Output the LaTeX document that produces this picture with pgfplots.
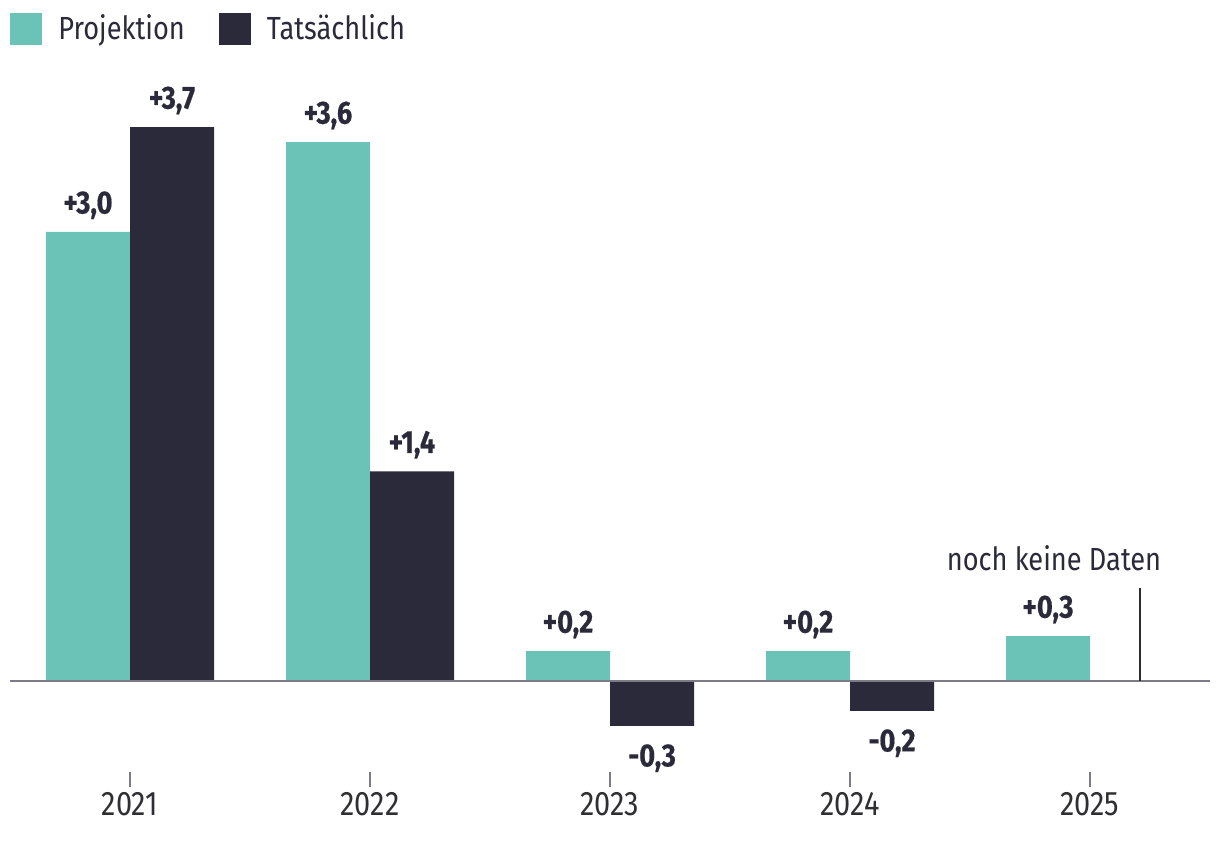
\documentclass[border=0pt]{standalone}
\usepackage{fontspec}
\setmainfont{Fira Sans}[FakeStretch=0.85]
\newfontfamily\valfont{Fira Sans}[FakeStretch=0.85, FakeBold=0.5]
\usepackage{pgfplots}
\usepackage{pgfplotstable}
\pgfplotsset{compat=1.18}

\definecolor{teal}{HTML}{6BC3B8}
\definecolor{dark}{HTML}{2B2A3A}
\definecolor{zerogray}{HTML}{7D7B87}
\definecolor{ticktext}{HTML}{2E2E33}

% Wachstum: Projektion vs. tatsaechlich
\pgfplotstableread{
x  y    label
0  3.0  +3,0
1  3.6  +3,6
2  0.2  +0,2
3  0.2  +0,2
4  0.3  +0,3
}\projektion

% positive und negative Werte getrennt (Beschriftung oben/unten)
\pgfplotstableread{
x  y     label
0  3.7   +3,7
1  1.4   +1,4
}\tatspos

\pgfplotstableread{
x  y     label
2  -0.3  -0,3
3  -0.2  -0,2
}\tatsneg

\begin{document}
\begin{tikzpicture}
\useasboundingbox (-5pt,-37pt) rectangle (605pt,386pt);
\begin{axis}[
  width=600pt, height=356pt, scale only axis,
  xmin=-0.5, xmax=4.5,
  ymin=-0.608, ymax=4.148,
  clip=false,
  ybar, bar width=0.35,
  axis x line*=bottom, axis y line=none,
  x axis line style={draw=none},
  xtick={0,1,2,3,4},
  xticklabels={2021,2022,2023,2024,2025},
  xtick align=outside,
  major tick length=7.5pt,
  x tick style={zerogray, line width=0.8pt},
  xticklabel style={font=\fontsize{17}{19}\selectfont, text=ticktext, inner sep=0pt, yshift=-2.5pt},
  ytick=\empty,
  point meta=explicit symbolic,
  nodes near coords,
  every node near coord/.append style={font=\fontsize{16}{18}\valfont\bfseries, text=dark,
    inner xsep=0pt, inner ysep=9pt, text depth=0pt, anchor=south},
  legend columns=2,
  legend style={at={(0,1)}, anchor=west, yshift=15.5pt, draw=none, fill=none, inner sep=0pt,
    font=\fontsize{16}{18}\selectfont, text=dark,
    nodes={inner sep=0pt},
    /tikz/every odd column/.style={column sep=8pt},
    /tikz/every even column/.style={column sep=17pt}},
  legend image code/.code={\fill[#1] (0pt,-8pt) rectangle (16pt,8pt);},
]
\addplot[fill=teal, draw=none, bar shift=-0.175] table[x=x, y=y, meta=label] {\projektion};
\addlegendentry{Projektion}
\addplot[fill=dark, draw=none, bar shift=0.175] table[x=x, y=y, meta=label] {\tatspos};
\addlegendentry{Tatsächlich}
\addplot[fill=dark, draw=none, bar shift=0.175, forget plot,
  every node near coord/.append style={anchor=north}]
  table[x=x, y=y, meta=label] {\tatsneg};
\draw[zerogray, line width=1pt] (-0.5,0) -- (4.5,0);
\draw[dark, line width=1pt] (4.208,0) -- (4.208,0.62);
\node[anchor=base, font=\fontsize{16}{18}\selectfont, text=dark, inner sep=0pt] at (3.85,0.74) {noch keine Daten};
\end{axis}
\end{tikzpicture}
\end{document}
